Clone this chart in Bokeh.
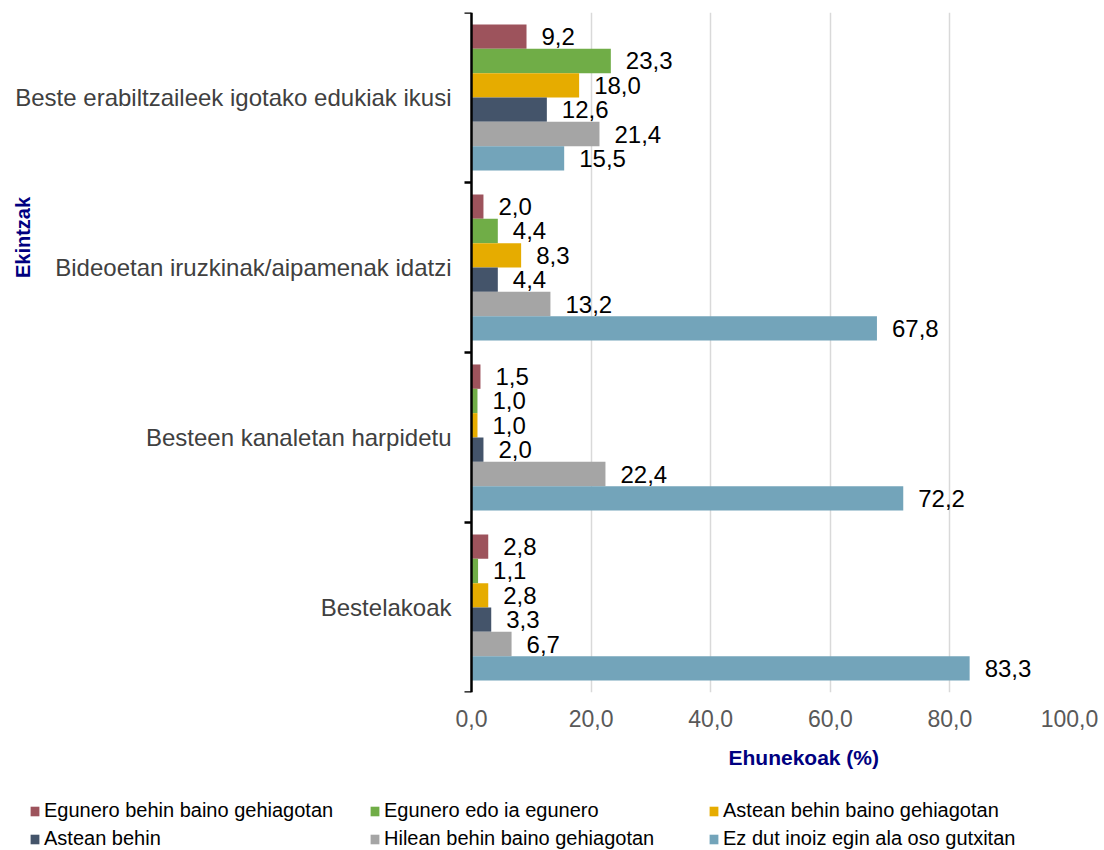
import math
from bokeh.plotting import figure
from bokeh.layouts import column
from bokeh.models import (Range1d, FixedTicker, Label, Legend, LegendItem, ColumnDataSource, Title)
from bokeh.core.properties import value
from bokeh.embed import file_html
from bokeh.resources import INLINE

categories = [
    "Beste erabiltzaileek igotako edukiak ikusi",
    "Bideoetan iruzkinak/aipamenak idatzi",
    "Besteen kanaletan harpidetu",
    "Bestelakoak",
]
series_names = [
    "Egunero behin baino gehiagotan",
    "Egunero edo ia egunero",
    "Astean behin baino gehiagotan",
    "Astean behin",
    "Hilean behin baino gehiagotan",
    "Ez dut inoiz egin ala oso gutxitan",
]
egunero_behin_baino = [9.2, 2.0, 1.5, 2.8]
egunero_edo_ia = [23.3, 4.4, 1.0, 1.1]
astean_behin_baino = [18.0, 8.3, 1.0, 2.8]
astean_behin = [12.6, 4.4, 2.0, 3.3]
hilean_behin_baino = [21.4, 13.2, 22.4, 6.7]
ez_dut_inoiz = [15.5, 67.8, 72.2, 83.3]
series_values = [egunero_behin_baino, egunero_edo_ia, astean_behin_baino,
                 astean_behin, hilean_behin_baino, ez_dut_inoiz]
colors = ["#9d535c", "#70ad47", "#e6ac00", "#44546a", "#a5a5a5", "#73a4ba"]
x_ticks = [0, 20, 40, 60, 80, 100]
x_tick_labels = ["0,0", "20,0", "40,0", "60,0", "80,0", "100,0"]

FONT = "Liberation Sans"
W = 1104
H_MAIN, H_LEG = 790, 60
FRAME_L, FRAME_R, FRAME_T, FRAME_B = 10, 1069, 12, 692
ZERO_PX = 471  # pixel position of value 0 (plot area starts here)

n_cat = len(categories)
n_ser = len(series_names)
bh = 0.1432
pad = (1 - n_ser * bh) / 2

x_max = 100
px_per_unit = (FRAME_R - ZERO_PX) / x_max
x_start = -(ZERO_PX - FRAME_L) / px_per_unit

p = figure(width=W, height=H_MAIN, output_backend="svg", toolbar_location=None,
           x_range=Range1d(x_start, x_max), y_range=Range1d(0, n_cat),
           min_border_left=FRAME_L, min_border_right=W - FRAME_R,
           min_border_top=FRAME_T, min_border_bottom=H_MAIN - FRAME_B)
p.outline_line_color = None
p.background_fill_color = "white"
p.border_fill_color = "white"

for j, (name, vals, col) in enumerate(zip(series_names, series_values, colors)):
    ys = [(n_cat - i) - pad - (j + 0.5) * bh for i in range(n_cat)]
    labels = [f"{v:.1f}".replace(".", ",") for v in vals]
    src = ColumnDataSource(dict(y=ys, right=vals, lab=labels))
    p.hbar(y="y", right="right", left=0, height=bh, source=src,
           fill_color=col, line_color=None)
    p.text(x="right", y="y", text="lab", source=src, x_offset=15,
           text_align="left", text_baseline="middle", text_font_size="24px",
           text_color="black", text_font=value(FONT))

# category labels (left of the value axis)
cat_src = ColumnDataSource(dict(x=[0] * n_cat, y=[n_cat - i - 0.5 for i in range(n_cat)],
                                t=categories))
p.text(x="x", y="y", text="t", source=cat_src, x_offset=-20, text_align="right",
       text_baseline="middle", text_font_size="24px", text_color="#404040",
       text_font=value(FONT))

# y axis pinned at value 0
ya = p.yaxis[0]
ya.fixed_location = 0
ya.ticker = FixedTicker(ticks=[], minor_ticks=list(range(n_cat + 1)))
ya.axis_line_color = "black"
ya.axis_line_width = 2.5
ya.major_tick_out = 0
ya.major_tick_in = 0
ya.minor_tick_out = 7
ya.minor_tick_in = 0
ya.minor_tick_line_color = "black"
ya.minor_tick_line_width = 2.5
ya.major_label_standoff = 0
ya.major_label_text_font_size = "0px"

# x axis
xa = p.xaxis[0]
xa.ticker = FixedTicker(ticks=x_ticks)
xa.major_label_overrides = {t: l for t, l in zip(x_ticks, x_tick_labels)}
xa.axis_line_color = None
xa.major_tick_line_color = None
xa.minor_tick_line_color = None
xa.major_tick_out = 0
xa.major_tick_in = 0
xa.major_label_standoff = 17
xa.major_label_text_font = FONT
xa.major_label_text_font_size = "23px"
xa.major_label_text_color = "#595959"

p.ygrid.grid_line_color = None
p.xgrid.ticker = FixedTicker(ticks=x_ticks[1:])
p.xgrid.grid_line_color = "#d9d9d9"
p.xgrid.grid_line_width = 1.5

# x axis title
p.add_layout(Title(text="Ehunekoak (%)", align="left", offset=733 - FRAME_L - 5,
                   text_font=FONT, text_font_size="21px", text_font_style="bold",
                   text_color="#000080", standoff=29), "below")

# y axis title
p.add_layout(Label(x=22 - FRAME_L, y=FRAME_B - 237, x_units="screen", y_units="screen",
                   text="Ekintzak", angle=math.pi / 2, text_align="center",
                   text_baseline="middle", text_font=FONT, text_font_size="20px",
                   text_font_style="bold", text_color="#000080"))

# legend strip
pl = figure(width=W, height=H_LEG, output_backend="svg", toolbar_location=None,
            x_axis_type=None, y_axis_type=None, min_border=0,
            x_range=Range1d(0, 1), y_range=Range1d(0, 1))
pl.outline_line_color = None
pl.grid.visible = False
pl.background_fill_color = "white"
pl.border_fill_color = "white"
# zero-width swatch renderers: nothing drawn in the strip, only their legend glyphs show
leg_renderers = [pl.hbar(y=[0.5], left=[0], right=[0], height=0.1, fill_color=c, line_color=None)
                 for c in colors]
col_x = [19, 359, 698]
for c in range(3):
    items = [LegendItem(label=series_names[c], renderers=[leg_renderers[c]]),
             LegendItem(label=series_names[c + 3], renderers=[leg_renderers[c + 3]])]
    lg = Legend(items=items, location=(col_x[c], 0), orientation="vertical",
                padding=0, margin=0, spacing=5, border_line_color=None,
                background_fill_alpha=0, glyph_width=11, glyph_height=12,
                label_standoff=4, label_height=22, label_text_font=FONT,
                label_text_font_size="20px", label_text_color="black",
                label_text_baseline="middle")
    pl.add_layout(lg, "center")

layout = column(p, pl, spacing=0)
open("out.html", "w").write(file_html(layout, INLINE))
